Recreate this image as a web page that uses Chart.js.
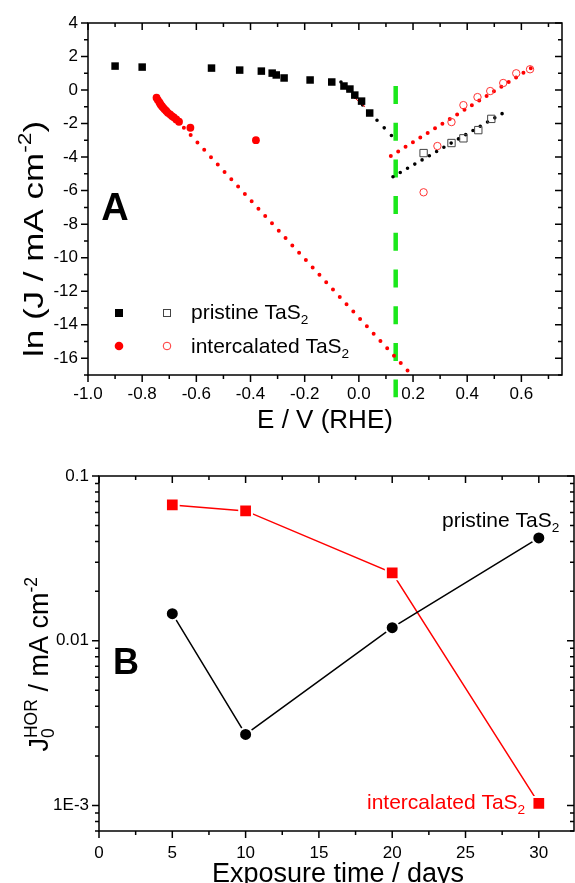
<!DOCTYPE html>
<html>
<head>
<meta charset="utf-8">
<script src="https://cdn.jsdelivr.net/npm/chart.js@4.4.1/dist/chart.umd.min.js"></script>
<style>
html, body { margin: 0; padding: 0; background: #fff; overflow: hidden; width: 575px; height: 883px; }
#boxA { position: absolute; left: 0; top: 0; width: 575px; height: 440px; }
#boxB { position: absolute; left: 0; top: 440px; width: 585px; height: 443px; }
</style>
</head>
<body>
<div id="boxA"><canvas id="chartA"></canvas></div>
<div id="boxB"><canvas id="chartB"></canvas></div>
<script>
// ---- panel A: Tafel plot ----
const xTicksA = [-1.0, -0.8, -0.6, -0.4, -0.2, 0.0, 0.2, 0.4, 0.6];
const yTicksA = [4, 2, 0, -2, -4, -6, -8, -10, -12, -14, -16];

const pristineCathE = [-0.90, -0.80, -0.544, -0.44, -0.36, -0.32, -0.305, -0.276, -0.18, -0.10, -0.055, -0.033, -0.015, 0.01, 0.04];
const pristineCathLnJ = [1.43, 1.37, 1.31, 1.19, 1.13, 1.01, 0.90, 0.72, 0.60, 0.48, 0.24, 0.06, -0.30, -0.66, -1.37];
const pristineAnodE = [0.239, 0.342, 0.386, 0.441, 0.489];
const pristineAnodLnJ = [-3.76, -3.16, -2.88, -2.39, -1.72];

const intercCathE = [-0.747, -0.742, -0.736, -0.732, -0.727, -0.722, -0.717, -0.711, -0.705, -0.697, -0.690, -0.683, -0.674, -0.664, -0.622, -0.380];
const intercCathLnJ = [-0.46, -0.60, -0.74, -0.86, -0.96, -1.06, -1.15, -1.25, -1.36, -1.45, -1.55, -1.63, -1.75, -1.89, -2.25, -2.99];
const intercAnodE = [0.239, 0.290, 0.342, 0.386, 0.438, 0.485, 0.533, 0.581, 0.632];
const intercAnodLnJ = [-6.1, -3.34, -1.91, -0.90, -0.42, -0.06, 0.42, 1.00, 1.24];

// Tafel fit lines (end points)
const pristineCathFitE = [-0.066, 0.143];
const pristineCathFitLnJ = [0.48, -3.10];
const pristineAnodFitE = [0.126, 0.535];
const pristineAnodFitLnJ = [-5.17, -1.35];
const intercCathFitE = [-0.646, 0.201];
const intercCathFitLnJ = [-2.25, -17.1];
const intercAnodFitE = [0.118, 0.659];
const intercAnodFitLnJ = [-3.94, 1.55];
const intercSegE = [-0.027, 0.022];
const intercSegLnJ = [-0.30, -1.00];
// equilibrium potential marker
const eqE = [0.136, 0.136];
const eqLnJ = [0.24, -18.33];

// ---- panel B: exchange current vs exposure ----
const days = [5, 10, 20, 30];
const j0Pristine = [0.0146, 0.0027, 0.0120, 0.0421];
const j0Interc = [0.0667, 0.0614, 0.0258, 0.00103];
const xTicksB = [0, 5, 10, 15, 20, 25, 30];
const yTicksB = [0.001, 0.01, 0.1];
const yTickLabelsB = ['1E-3', '0.01', '0.1'];

const FAM = 'Arial, "Liberation Sans", sans-serif';
const tickFont = { family: FAM, size: 17 };
const pts = (xs, ys) => xs.map((v, i) => ({ x: v, y: ys[i] }));

// text with sub/superscripts, optional rotation and horizontal stretch
function drawRich(ctx, parts, x, y, size, o = {}) {
  const small = size * 0.65;
  const font = p => (o.bold ? 'bold ' : '') + (p.sup || p.sub ? small : size) + 'px ' + FAM;
  ctx.save();
  ctx.translate(x, y);
  if (o.rot) ctx.rotate(o.rot);
  ctx.scale(o.sx || 1, 1);
  ctx.fillStyle = o.color || '#000';
  ctx.textBaseline = 'alphabetic';
  ctx.textAlign = 'left';
  const widths = parts.map(p => { ctx.font = font(p); return ctx.measureText(p.t).width; });
  let total = 0, pend = 0;
  parts.forEach((p, i) => {
    if (p.stack) pend = widths[i];
    else { total += Math.max(widths[i], pend); pend = 0; }
  });
  let cx = o.align === 'center' ? -total / 2 : o.align === 'right' ? -total : 0;
  pend = 0;
  parts.forEach((p, i) => {
    ctx.font = font(p);
    const dy = p.sup ? -size * 0.42 : p.sub ? size * 0.22 : 0;
    ctx.fillText(p.t, cx, dy);
    if (p.stack) pend = widths[i];
    else { cx += Math.max(widths[i], pend); pend = 0; }
  });
  ctx.restore();
}

// box frame, outside ticks bottom/left, inside ticks top/right
function frameTicks(cfg) {
  return {
    id: 'frameTicks',
    afterDatasetsDraw(chart) {
      const { ctx, chartArea: a, scales: { x, y } } = chart;
      ctx.save();
      ctx.strokeStyle = '#000';
      ctx.lineWidth = 1.5;
      ctx.strokeRect(a.left, a.top, a.right - a.left, a.bottom - a.top);
      ctx.beginPath();
      const xt = (v, len) => {
        const p = x.getPixelForValue(v);
        ctx.moveTo(p, a.bottom); ctx.lineTo(p, a.bottom + len);
        ctx.moveTo(p, a.top); ctx.lineTo(p, a.top + len);
      };
      const yt = (v, len) => {
        const p = y.getPixelForValue(v);
        ctx.moveTo(a.left, p); ctx.lineTo(a.left - len, p);
        ctx.moveTo(a.right, p); ctx.lineTo(a.right - len, p);
      };
      cfg.xMajor.forEach(v => xt(v, 7));
      cfg.xMinor.forEach(v => xt(v, 4));
      cfg.yMajor.forEach(v => yt(v, 7));
      cfg.yMinor.forEach(v => yt(v, 4));
      ctx.stroke();
      ctx.restore();
    }
  };
}

// minor ticks
const xMinorA = [];
for (let i = -9; i <= 7; i += 2) xMinorA.push(i / 10);
const yMinorA = [];
for (let v = 3; v >= -17; v -= 2) yMinorA.push(v);
const xMinorB = [];
for (let v = 2.5; v < 32.4; v += 5) xMinorB.push(v);
const yMinorB = [];
[0.0001, 0.001, 0.01].forEach(d => { for (let m = 2; m <= 9; m++) { const v = m * d; if (v >= 0.0007 && v <= 0.1) yMinorB.push(v); } });

const annotA = {
  id: 'annotA',
  afterDraw(chart) {
    const ctx = chart.ctx;
    drawRich(ctx, [{ t: 'A' }], 115, 220, 38, { bold: true, align: 'center' });
    // legend
    ctx.save();
    ctx.fillStyle = '#000';
    ctx.fillRect(115, 309, 8, 8);
    ctx.strokeStyle = '#444';
    ctx.lineWidth = 1;
    ctx.strokeRect(163.5, 309.5, 7, 7);
    ctx.fillStyle = '#f00';
    ctx.beginPath(); ctx.arc(119, 346, 4.3, 0, Math.PI * 2); ctx.fill();
    ctx.strokeStyle = '#f33';
    ctx.beginPath(); ctx.arc(167, 346, 3.8, 0, Math.PI * 2); ctx.stroke();
    ctx.restore();
    drawRich(ctx, [{ t: 'pristine TaS' }, { t: '2', sub: true }], 191, 319, 21);
    drawRich(ctx, [{ t: 'intercalated TaS' }, { t: '2', sub: true }], 191, 353, 21);
    // axis titles
    drawRich(ctx, [{ t: 'E / V (RHE)' }], 325, 428, 26, { align: 'center' });
    drawRich(ctx, [{ t: 'ln (J / mA cm' }, { t: '-2', sup: true }, { t: ')' }], 43, 357, 28, { rot: -Math.PI / 2, sx: 1.25 });
  }
};

const annotB = {
  id: 'annotB',
  afterDraw(chart) {
    const ctx = chart.ctx;
    drawRich(ctx, [{ t: 'B' }], 126, 234, 36, { bold: true, align: 'center' });
    drawRich(ctx, [{ t: 'pristine TaS' }, { t: '2', sub: true }], 442, 87, 21);
    drawRich(ctx, [{ t: 'intercalated TaS' }, { t: '2', sub: true }], 367, 369, 21, { color: '#f00' });
    drawRich(ctx, [{ t: 'Exposure time / days' }], 338, 442, 27, { align: 'center' });
    drawRich(ctx, [{ t: 'J' }, { t: '0', sub: true, stack: true }, { t: 'HOR', sup: true }, { t: ' / mA cm' }, { t: '-2', sup: true }],
      48, 137, 27, { rot: -Math.PI / 2, align: 'right' });
  }
};

new Chart(document.getElementById('chartA'), {
  type: 'scatter',
  data: {
    datasets: [
      { data: pts(pristineCathE, pristineCathLnJ), pointStyle: 'rect', pointRadius: 5.3, backgroundColor: '#000', borderWidth: 0 },
      { data: pts(pristineAnodE, pristineAnodLnJ), pointStyle: 'rect', pointRadius: 5.2, backgroundColor: 'rgba(255,255,255,0)', borderColor: '#444', borderWidth: 1 },
      { data: pts(intercCathE, intercCathLnJ), pointStyle: 'circle', pointRadius: 3.9, backgroundColor: '#f00', borderWidth: 0 },
      { data: pts(intercAnodE, intercAnodLnJ), pointStyle: 'circle', pointRadius: 3.7, backgroundColor: 'rgba(255,255,255,0)', borderColor: '#f33', borderWidth: 1 },
      { data: pts(intercSegE, intercSegLnJ), showLine: true, pointRadius: 0, borderColor: '#f00', borderWidth: 1 },
      { data: pts(pristineCathFitE, pristineCathFitLnJ), showLine: true, pointRadius: 0, borderColor: '#000', borderWidth: 3.6, borderDash: [0, 10.5], borderCapStyle: 'round' },
      { data: pts(pristineAnodFitE, pristineAnodFitLnJ), showLine: true, pointRadius: 0, borderColor: '#000', borderWidth: 3.6, borderDash: [0, 8.4], borderCapStyle: 'round' },
      { data: pts(intercCathFitE, intercCathFitLnJ), showLine: true, pointRadius: 0, borderColor: '#f00', borderWidth: 4, borderDash: [0, 10], borderCapStyle: 'round' },
      { data: pts(intercAnodFitE, intercAnodFitLnJ), showLine: true, pointRadius: 0, borderColor: '#f00', borderWidth: 4, borderDash: [0, 8.7], borderCapStyle: 'round' },
      { data: pts(eqE, eqLnJ), showLine: true, pointRadius: 0, borderColor: '#1be81b', borderWidth: 4.5, borderDash: [18, 18.7], clip: false }
    ]
  },
  options: {
    responsive: true,
    maintainAspectRatio: false,
    animation: false,
    layout: { padding: { top: 23, right: 13, left: 0, bottom: 0 } },
    plugins: { legend: { display: false }, tooltip: { enabled: false } },
    scales: {
      x: {
        type: 'linear', min: -1.0, max: 0.75,
        afterBuildTicks: s => { s.ticks = xTicksA.map(v => ({ value: v })); },
        afterFit: s => { s.height = 65; },
        grid: { display: false, drawTicks: false }, border: { display: false },
        ticks: { font: tickFont, color: '#000', padding: 9, maxRotation: 0, autoSkip: false, callback: v => v.toFixed(1) }
      },
      y: {
        type: 'linear', min: -17, max: 4,
        afterBuildTicks: s => { s.ticks = yTicksA.map(v => ({ value: v })); },
        afterFit: s => { s.width = 88; },
        grid: { display: false, drawTicks: false }, border: { display: false },
        ticks: { font: tickFont, color: '#000', padding: 10, autoSkip: false, callback: v => String(v) }
      }
    }
  },
  plugins: [frameTicks({ xMajor: xTicksA, xMinor: xMinorA, yMajor: yTicksA, yMinor: yMinorA }), annotA]
});

new Chart(document.getElementById('chartB'), {
  type: 'scatter',
  data: {
    datasets: [
      { data: pts(days, j0Pristine), showLine: true, borderColor: '#000', borderWidth: 1.5,
        pointStyle: 'circle', pointRadius: 6.5, pointBackgroundColor: '#000', pointBorderColor: '#fff', pointBorderWidth: 2 },
      { data: pts(days, j0Interc), showLine: true, borderColor: '#f00', borderWidth: 1.5,
        pointStyle: 'rect', pointRadius: 9, pointBackgroundColor: '#f00', pointBorderColor: '#fff', pointBorderWidth: 2 }
    ]
  },
  options: {
    responsive: true,
    maintainAspectRatio: false,
    animation: false,
    layout: { padding: { top: 36, right: 8, left: 0, bottom: 0 } },
    plugins: { legend: { display: false }, tooltip: { enabled: false } },
    scales: {
      x: {
        type: 'linear', min: 0, max: 32.4,
        afterBuildTicks: s => { s.ticks = xTicksB.map(v => ({ value: v })); },
        afterFit: s => { s.height = 52; },
        grid: { display: false, drawTicks: false }, border: { display: false },
        ticks: { font: tickFont, color: '#000', padding: 12, maxRotation: 0, autoSkip: false, callback: v => String(v) }
      },
      y: {
        type: 'logarithmic', min: 0.0007, max: 0.1,
        afterBuildTicks: s => { s.ticks = yTicksB.map(v => ({ value: v })); },
        afterFit: s => { s.width = 99; },
        grid: { display: false, drawTicks: false }, border: { display: false },
        ticks: { font: tickFont, color: '#000', padding: 10, autoSkip: false, callback: v => yTickLabelsB[yTicksB.indexOf(v)] }
      }
    }
  },
  plugins: [frameTicks({ xMajor: xTicksB, xMinor: xMinorB, yMajor: yTicksB, yMinor: yMinorB }), annotB]
});
</script>
</body>
</html>
